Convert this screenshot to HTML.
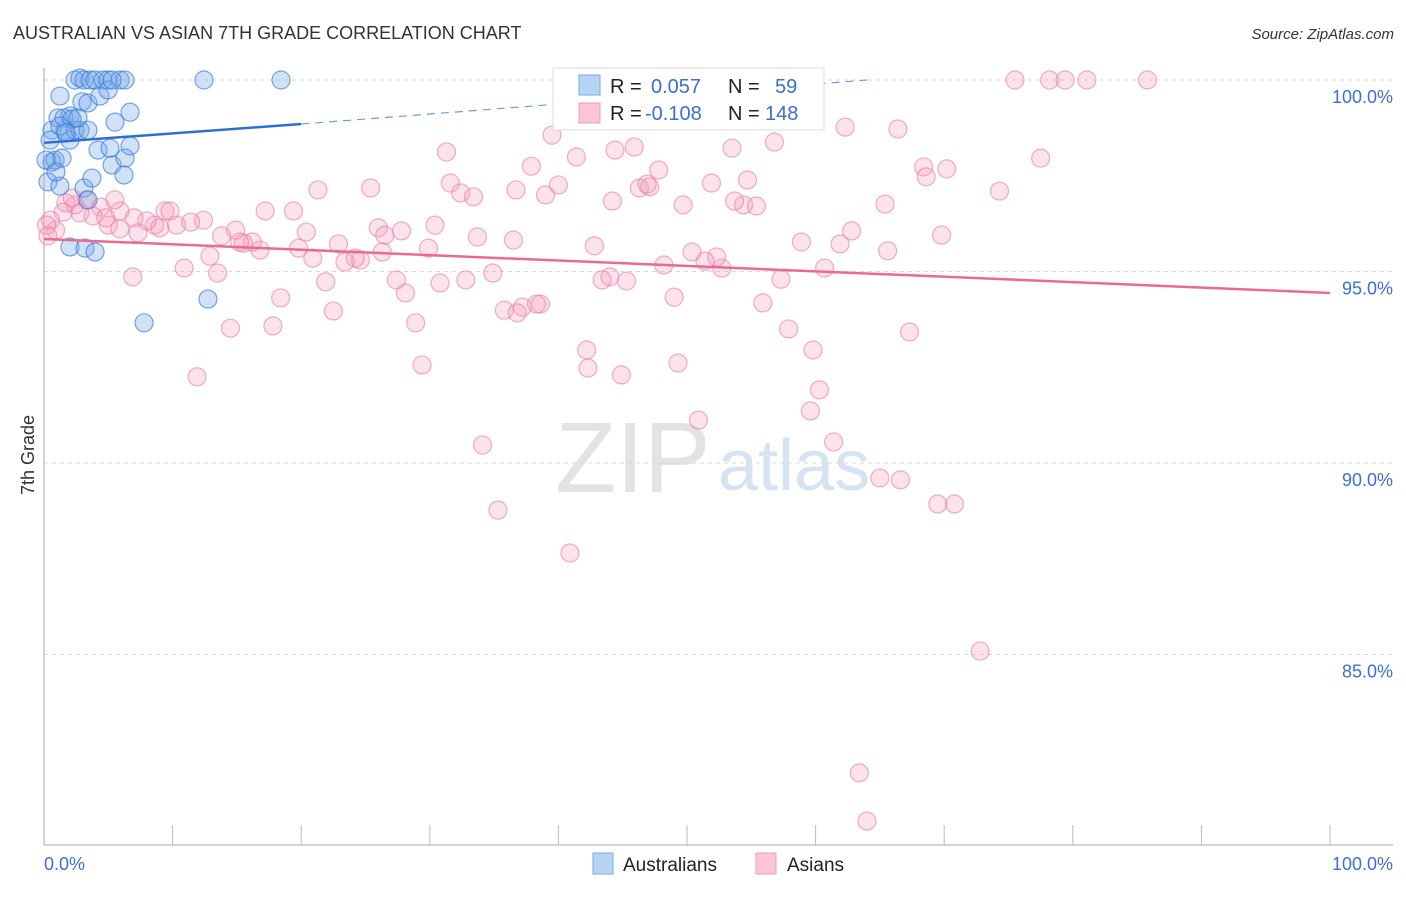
<!DOCTYPE html>
<html><head><meta charset="utf-8">
<style>
body{margin:0;background:#fff;font-family:"Liberation Sans",sans-serif;}
svg text{font-family:"Liberation Sans",sans-serif;}
</style></head>
<body>
<svg id="chart" width="1406" height="892" xmlns="http://www.w3.org/2000/svg">
<text x="13" y="39" font-size="18" fill="#333">AUSTRALIAN VS ASIAN 7TH GRADE CORRELATION CHART</text>
<text x="1394" y="39" font-size="15" font-style="italic" fill="#333" text-anchor="end">Source: ZipAtlas.com</text>
<g>
<text x="555" y="492" font-size="100" font-family="Liberation Serif" fill="#e3e3e3">ZIP</text>
<text x="718" y="490" font-size="72" fill="#d6e3f5">atlas</text>
</g>
<g id="grid"></g>
<g id="axes"></g>
<g id="marks"></g>
<g id="lines"></g>
<text transform="translate(34,455) rotate(-90)" font-size="18" fill="#333" text-anchor="middle">7th Grade</text>
<g>
<rect x="553" y="68" width="271" height="62" fill="#fff" stroke="#ddd"/>
<rect x="579" y="75" width="21" height="20" fill="#b8d4f5" stroke="#7aaae6"/>
<rect x="579" y="103" width="21" height="20" fill="#fbc5d5" stroke="#f09ab5"/>
<text x="610" y="93" font-size="20" fill="#222">R =</text>
<text x="651" y="93" font-size="20" fill="#3b6fd4">0.057</text>
<text x="728" y="93" font-size="20" fill="#222">N =</text>
<text x="775" y="93" font-size="20" fill="#3b6fd4">59</text>
<text x="610" y="120" font-size="20" fill="#222">R =</text>
<text x="645" y="120" font-size="20" fill="#3b6fd4">-0.108</text>
<text x="728" y="120" font-size="20" fill="#222">N =</text>
<text x="765" y="120" font-size="20" fill="#3b6fd4">148</text>
</g>
<g>
<rect x="593" y="853" width="20" height="21" fill="#b8d4f5" stroke="#7aaae6"/>
<text x="623" y="871" font-size="19" fill="#222">Australians</text>
<rect x="756" y="853" width="20" height="21" fill="#fbc5d5" stroke="#f09ab5"/>
<text x="787" y="871" font-size="19" fill="#222">Asians</text>
</g>
</svg>
<script>
const yTicks=[100,95,90,85];
const yTickLabels=["100.0%","95.0%","90.0%","85.0%"];
const xTickLabels=["0.0%","100.0%"];
const ausX=[0.62,1.09,1.24,2.02,2.41,2.8,3.11,3.58,3.97,4.59,4.98,5.91,6.3,2.95,3.42,4.35,4.98,6.69,5.52,0.62,0.86,1.4,1.63,2.02,2.41,2.8,3.42,4.2,5.29,6.3,6.69,5.13,6.22,0.31,1.24,3.11,3.42,2.02,3.19,3.97,7.78,12.75,12.44,18.43,0.47,1.56,2.18,1.24,1.71,5.29,0.16,0.93,3.73,2.64];
const ausY=[98.69,99.01,99.58,99.06,100,100.05,100,100,100,100,100,100,100,99.43,99.4,99.58,99.74,99.16,98.9,97.86,97.91,97.96,98.69,98.43,98.69,98.69,98.69,98.17,97.78,97.96,98.28,98.22,97.52,97.34,97.23,97.18,96.87,95.64,95.61,95.51,93.66,94.28,100,100,98.43,99.01,98.98,98.8,98.62,100,97.91,97.6,97.44,99.01];
const asX=[75.5,78.2,79.4,81.1,85.8,39.5,31.3,41.4,44.4,45.9,53.5,56.8,56.3,62.3,66.4,77.5,68.4,70.2,68.6,74.3,65.4,69.8,62.8,61.9,58.9,60.7,57.3,65.6,55.9,57.9,59.8,67.3,60.3,59.6,61.4,65.0,66.6,69.5,70.8,72.8,63.4,64.0,52.7,52.3,51.4,50.4,48.2,49.0,54.7,54.4,55.4,53.7,51.9,49.7,47.8,47.1,46.3,46.9,44.2,42.8,44.0,43.4,45.3,42.2,42.3,44.9,49.3,50.9,34.1,35.3,40.9,39.0,40.0,37.9,36.7,36.5,34.9,30.8,32.8,31.6,32.4,33.4,30.4,29.9,33.7,28.1,27.4,28.9,29.4,25.4,26.3,26.0,26.5,27.8,24.6,24.2,23.4,22.9,22.5,21.9,21.3,20.4,19.8,20.9,19.4,18.4,17.8,17.2,16.8,16.2,15.5,15.2,14.9,14.5,13.8,13.5,12.9,12.4,11.4,11.9,10.9,10.3,9.4,9.0,8.6,8.0,7.0,7.3,6.9,5.9,5.5,5.0,4.4,3.8,3.3,2.8,2.4,1.7,1.5,0.9,0.5,0.2,0.3,2.2,4.8,5.9,9.8,38.6,37.2,35.8,36.8,38.3];
const asY=[100,100,100,100,100,98.56,98.12,97.99,98.17,98.25,98.22,98.38,99.09,98.77,98.72,97.96,97.73,97.68,97.47,97.1,96.76,95.95,96.06,95.72,95.77,95.09,94.8,95.54,94.18,93.5,92.95,93.42,91.91,91.36,90.55,89.61,89.56,88.93,88.93,85.09,81.91,80.65,95.09,95.38,95.27,95.51,95.17,94.33,97.39,96.74,96.71,96.84,97.31,96.74,97.65,97.21,97.18,97.28,96.84,95.67,94.86,94.78,94.75,92.95,92.48,92.3,92.61,91.12,90.47,88.77,87.65,97.0,97.26,97.75,97.13,95.82,94.96,94.7,94.78,97.31,97.05,96.95,96.21,95.61,95.9,94.44,94.78,93.66,92.56,97.18,95.51,96.14,95.95,96.06,95.3,95.35,95.25,95.72,93.97,94.73,97.13,96.03,95.61,95.35,96.58,94.31,93.58,96.58,95.56,95.77,95.74,95.77,96.08,93.52,95.93,94.96,95.4,96.34,96.29,92.25,95.09,96.21,96.58,96.14,96.21,96.32,96.4,96.01,94.86,96.58,96.87,96.21,96.68,96.45,96.87,96.53,96.74,96.79,96.55,96.08,96.34,96.21,95.93,96.92,96.4,96.11,96.58,94.15,94.07,93.99,93.92,94.15];
const ausTrend=[0,98.36,20,98.85,64,100];
const asTrend=[0,95.85,100,94.44];

const NS="http://www.w3.org/2000/svg";
const sx=v=>44+v*12.86;
const sy=v=>80+(100-v)*38.3;
function mk(tag,attrs,parent){const e=document.createElementNS(NS,tag);for(const k in attrs)e.setAttribute(k,attrs[k]);parent.appendChild(e);return e;}
const grid=document.getElementById('grid'),axes=document.getElementById('axes'),marks=document.getElementById('marks'),lines=document.getElementById('lines');
yTicks.forEach((t,i)=>{
 const g=mk('line',{x1:44,x2:1393,y1:sy(t),y2:sy(t),stroke:'#d8d8d8','stroke-dasharray':'4,4'},grid);
 
 
 const l=mk('text',{x:1393,y:sy(t)+23,'font-size':18,fill:'#3b6fd4','text-anchor':'end'},axes);
 l.textContent=yTickLabels[i];
 
 
});
const ya=mk('line',{x1:44,x2:44,y1:68,y2:845,stroke:'#aaa'},axes);


const xa=mk('line',{x1:44,x2:1393,y1:845,y2:845,stroke:'#aaa'},axes);


for(let i=1;i<=10;i++){
 const t=mk('line',{x1:sx(i*10),x2:sx(i*10),y1:825,y2:845,stroke:'#bbb'},axes);
 
 
}
[[0,'start'],[100,'end']].forEach((p,i)=>{
 const l=mk('text',{x:i?1393:44,y:870,'font-size':18,fill:'#3b6fd4','text-anchor':p[1]},axes);
 l.textContent=xTickLabels[i];
 
 
});
asX.forEach((x,i)=>{
 const c=mk('circle',{cx:sx(x),cy:sy(asY[i]),r:9,fill:'rgba(246,160,188,0.3)',stroke:'rgba(236,120,160,0.6)','stroke-width':1.2},marks);
 
 
});
ausX.forEach((x,i)=>{
 const c=mk('circle',{cx:sx(x),cy:sy(ausY[i]),r:(x===0?16:9),fill:'rgba(120,170,235,0.35)',stroke:'rgba(50,120,215,0.65)','stroke-width':1.2},marks);
 
 
});
const b1=mk('line',{x1:sx(ausTrend[0]),y1:sy(ausTrend[1]),x2:sx(ausTrend[2]),y2:sy(ausTrend[3]),stroke:'#2a6fd6','stroke-width':2.5},lines);


const b2=mk('line',{x1:sx(ausTrend[2]),y1:sy(ausTrend[3]),x2:sx(ausTrend[4]),y2:sy(ausTrend[5]),stroke:'#6a9ee0','stroke-width':1.2,'stroke-dasharray':'8,6'},lines);


const p1=mk('line',{x1:sx(asTrend[0]),y1:sy(asTrend[1]),x2:sx(asTrend[2]),y2:sy(asTrend[3]),stroke:'#e86a95','stroke-width':2.5},lines);


</script>
</body></html>
